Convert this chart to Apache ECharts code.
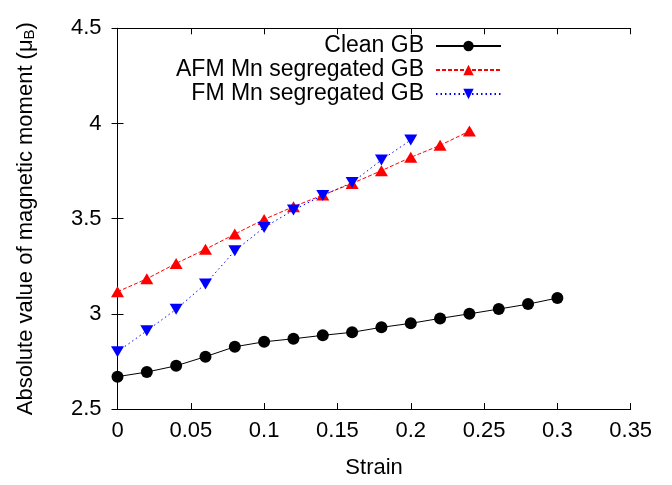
<!DOCTYPE html>
<html>
<head>
<meta charset="utf-8">
<script src="https://cdn.jsdelivr.net/npm/echarts@6/dist/echarts.min.js"></script>
<style>
  html, body { margin: 0; padding: 0; background: #fff; }
  #chart { width: 672px; height: 485px; }
</style>
</head>
<body>
<div id="chart"></div>
<script>
// strain points for each series
const strainClean = [0, 0.02, 0.04, 0.06, 0.08, 0.1, 0.12, 0.14, 0.16, 0.18, 0.2, 0.22, 0.24, 0.26, 0.28, 0.3];
const strainAFM = [0, 0.02, 0.04, 0.06, 0.08, 0.1, 0.12, 0.14, 0.16, 0.18, 0.2, 0.22, 0.24];
const strainFM = [0, 0.02, 0.04, 0.06, 0.08, 0.1, 0.12, 0.14, 0.16, 0.18, 0.2];

// magnetic moment (muB)
const momentClean = [2.67, 2.694, 2.727, 2.775, 2.827, 2.853, 2.869, 2.887, 2.903, 2.929, 2.95, 2.976, 3.0, 3.025, 3.051, 3.083];
const momentAFM = [3.116, 3.184, 3.265, 3.339, 3.419, 3.496, 3.563, 3.624, 3.685, 3.752, 3.822, 3.885, 3.96];
const momentFM = [2.801, 2.911, 3.024, 3.157, 3.331, 3.454, 3.545, 3.622, 3.69, 3.808, 3.913];

const xTicks = ['0', '0.05', '0.1', '0.15', '0.2', '0.25', '0.3', '0.35'];
const yTicks = ['2.5', '3', '3.5', '4', '4.5'];

const names = ['Clean GB', 'AFM Mn segregated GB', 'FM Mn segregated GB'];

const FONT = "'Liberation Sans', Arial, sans-serif";
const pairs = (xs, ys) => xs.map((x, i) => [x, ys[i]]);

const chart = echarts.init(document.getElementById('chart'));

const frameAxis = {
  axisLine: { show: true, lineStyle: { color: '#000', width: 1 } },
  axisTick: { show: true, inside: true, length: 6, lineStyle: { color: '#000' } },
  splitLine: { show: false },
};

const legendAt = (name, top) => ({
  data: [name],
  orient: 'horizontal',
  align: 'right',
  right: 170,
  top: top,
  padding: 0,
  itemWidth: 65,
  itemHeight: 13,
  textStyle: { fontFamily: FONT, fontSize: 23, color: '#000', padding: [0, 7, 0, 0], lineHeight: 24 },
});

chart.setOption({
  animation: false,
  backgroundColor: '#fff',
  textStyle: { fontFamily: FONT },
  grid: { left: 117.5, right: 41.3, top: 28.3, bottom: 76 },
  legend: [legendAt(names[0], 34), legendAt(names[1], 58), legendAt(names[2], 82)],
  xAxis: [
    Object.assign({}, frameAxis, {
      type: 'value', min: 0, max: 0.35, interval: 0.05, position: 'bottom',
      name: 'Strain', nameLocation: 'middle', nameGap: 48,
      nameTextStyle: { fontFamily: FONT, fontSize: 22, color: '#000' },
      axisLabel: {
        fontFamily: FONT, fontSize: 22, color: '#000', margin: 11,
        formatter: (v) => xTicks[Math.round(v / 0.05)],
      },
    }),
    Object.assign({}, frameAxis, {
      type: 'value', min: 0, max: 0.35, interval: 0.05, position: 'top',
      axisLabel: { show: false },
    }),
  ],
  yAxis: [
    Object.assign({}, frameAxis, {
      type: 'value', min: 2.5, max: 4.5, interval: 0.5, position: 'left',
      name: 'Absolute value of magnetic moment (μ{sub|B})',
      nameLocation: 'middle', nameGap: 80,
      nameTextStyle: {
        fontFamily: FONT, fontSize: 22, color: '#000',
        rich: { sub: { fontFamily: FONT, fontSize: 15, color: '#000', padding: [8, 0, 0, 0] } },
      },
      axisLabel: {
        fontFamily: FONT, fontSize: 22, color: '#000', margin: 16,
        formatter: (v) => yTicks[Math.round((v - 2.5) / 0.5)],
      },
    }),
    Object.assign({}, frameAxis, {
      type: 'value', min: 2.5, max: 4.5, interval: 0.5, position: 'right',
      axisLabel: { show: false },
    }),
  ],
  series: [
    {
      name: names[0], type: 'line', data: pairs(strainClean, momentClean),
      symbol: 'circle', symbolSize: 12, color: '#000',
      itemStyle: { color: '#000' },
      lineStyle: { color: '#000', width: 1 },
    },
    {
      name: names[1], type: 'line', data: pairs(strainAFM, momentAFM),
      symbol: 'triangle', symbolSize: [13, 11], color: '#ff0000',
      itemStyle: { color: '#ff0000' },
      lineStyle: { color: '#ff0000', width: 1, type: [4, 2] },
    },
    {
      name: names[2], type: 'line', data: pairs(strainFM, momentFM),
      symbol: 'triangle', symbolRotate: 180, symbolSize: [13, 11], color: '#0000ff',
      itemStyle: { color: '#0000ff' },
      lineStyle: { color: '#0000ff', width: 1, type: [1.5, 3] },
    },
  ],
});
</script>
</body>
</html>
